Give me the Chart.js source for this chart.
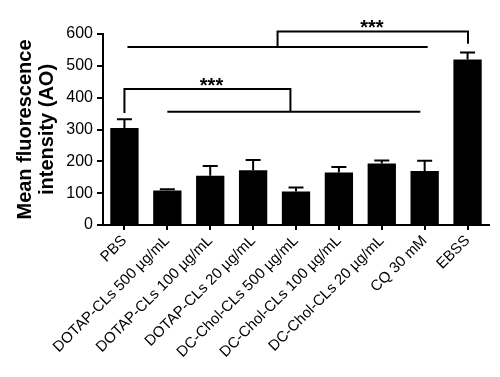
<!DOCTYPE html>
<html>
<head>
<meta charset="utf-8">
<script src="https://cdn.jsdelivr.net/npm/chart.js@4.4.0/dist/chart.umd.min.js"></script>
<style>
  html, body { margin: 0; padding: 0; background: #fff; }
  #wrap { width: 500px; height: 377px; }
</style>
</head>
<body>
<div id="wrap"><canvas id="aoChart"></canvas></div>
<script>
const groups = ['PBS', 'DOTAP-CLs 500 \u00b5g/mL', 'DOTAP-CLs 100 \u00b5g/mL', 'DOTAP-CLs 20 \u00b5g/mL',
    'DC-Chol-CLs 500 \u00b5g/mL', 'DC-Chol-CLs 100 \u00b5g/mL', 'DC-Chol-CLs 20 \u00b5g/mL', 'CQ 30 mM', 'EBSS'];
const means = [305, 108, 155, 172, 105, 165, 193, 170, 520];
const errs = [27, 4, 30, 32, 13, 17, 10, 32, 22];
const yTicks = [0, 100, 200, 300, 400, 500, 600];

// significance marks: category index positions and y values
const sigLines = [
    { from: 0.07, to: 7.07, y: 559 },
    { from: 1.0, to: 6.9, y: 356 }
];
const sigBrackets = [
    { x1: 3.57, x2: 8.01, yTop: 608, yLeft: 559, yRight: 569, starX: 5.77, starY: 630 },
    { x1: 0, x2: 3.87, yTop: 427, yLeft: 352, yRight: 356, starX: 2.03, starY: 450 }
];

const FONT = 'Arial, "Liberation Sans", sans-serif';

const marks = {
    id: 'marks',
    afterDatasetsDraw(chart) {
        const c = chart.ctx;
        const xs = chart.scales.x, ys = chart.scales.y;
        const meta = chart.getDatasetMeta(0);
        c.save();
        c.strokeStyle = '#000';
        c.lineWidth = 2;
        meta.data.forEach((bar, i) => {
            const top = ys.getPixelForValue(means[i] + errs[i]);
            c.beginPath();
            c.moveTo(bar.x, bar.y);
            c.lineTo(bar.x, top);
            c.moveTo(bar.x - 7.5, top);
            c.lineTo(bar.x + 7.5, top);
            c.stroke();
        });
        sigLines.forEach(l => {
            const y = ys.getPixelForValue(l.y);
            c.beginPath();
            c.moveTo(xs.getPixelForValue(l.from), y);
            c.lineTo(xs.getPixelForValue(l.to), y);
            c.stroke();
        });
        c.fillStyle = '#000';
        c.font = 'bold 20px ' + FONT;
        c.textAlign = 'center';
        c.textBaseline = 'alphabetic';
        const m = c.measureText('***');
        const shift = (m.actualBoundingBoxAscent - m.actualBoundingBoxDescent) / 2;
        sigBrackets.forEach(b => {
            const x1 = xs.getPixelForValue(b.x1), x2 = xs.getPixelForValue(b.x2);
            c.beginPath();
            c.moveTo(x1, ys.getPixelForValue(b.yLeft));
            c.lineTo(x1, ys.getPixelForValue(b.yTop));
            c.lineTo(x2, ys.getPixelForValue(b.yTop));
            c.lineTo(x2, ys.getPixelForValue(b.yRight));
            c.stroke();
            c.fillText('***', xs.getPixelForValue(b.starX), ys.getPixelForValue(b.starY) + shift);
        });
        c.restore();
    }
};

new Chart(document.getElementById('aoChart'), {
    type: 'bar',
    data: {
        labels: groups,
        datasets: [{
            data: means,
            backgroundColor: '#000',
            borderWidth: 0,
            categoryPercentage: 1,
            barPercentage: 0.66
        }]
    },
    options: {
        responsive: true,
        maintainAspectRatio: false,
        animation: false,
        layout: { padding: { top: 34, right: 11, left: 0, bottom: 0 } },
        plugins: { legend: { display: false }, tooltip: { enabled: false } },
        scales: {
            x: {
                offset: true,
                grid: { offset: false, drawOnChartArea: false, color: '#000', lineWidth: 2, tickLength: 5 },
                border: { color: '#000', width: 2 },
                ticks: {
                    autoSkip: false, maxRotation: 45, minRotation: 45, padding: 2,
                    color: '#000', font: { family: FONT, size: 15 }
                },
                afterFit(s) { s.height = 152; }
            },
            y: {
                min: 0, max: 600,
                afterBuildTicks(s) { s.ticks = yTicks.map(v => ({ value: v })); },
                grid: { drawOnChartArea: false, color: '#000', lineWidth: 2, tickLength: 6 },
                border: { color: '#000', width: 2 },
                ticks: { padding: 4, color: '#000', font: { family: FONT, size: 16 } },
                title: {
                    display: true,
                    text: ['Mean fluorescence', 'intensity (AO)'],
                    color: '#000',
                    font: { family: FONT, size: 20, weight: 'bold', lineHeight: 1.1 },
                    padding: { top: 14, bottom: 0 }
                },
                afterFit(s) { s.width = 103; }
            }
        }
    },
    plugins: [marks]
});
</script>
</body>
</html>
